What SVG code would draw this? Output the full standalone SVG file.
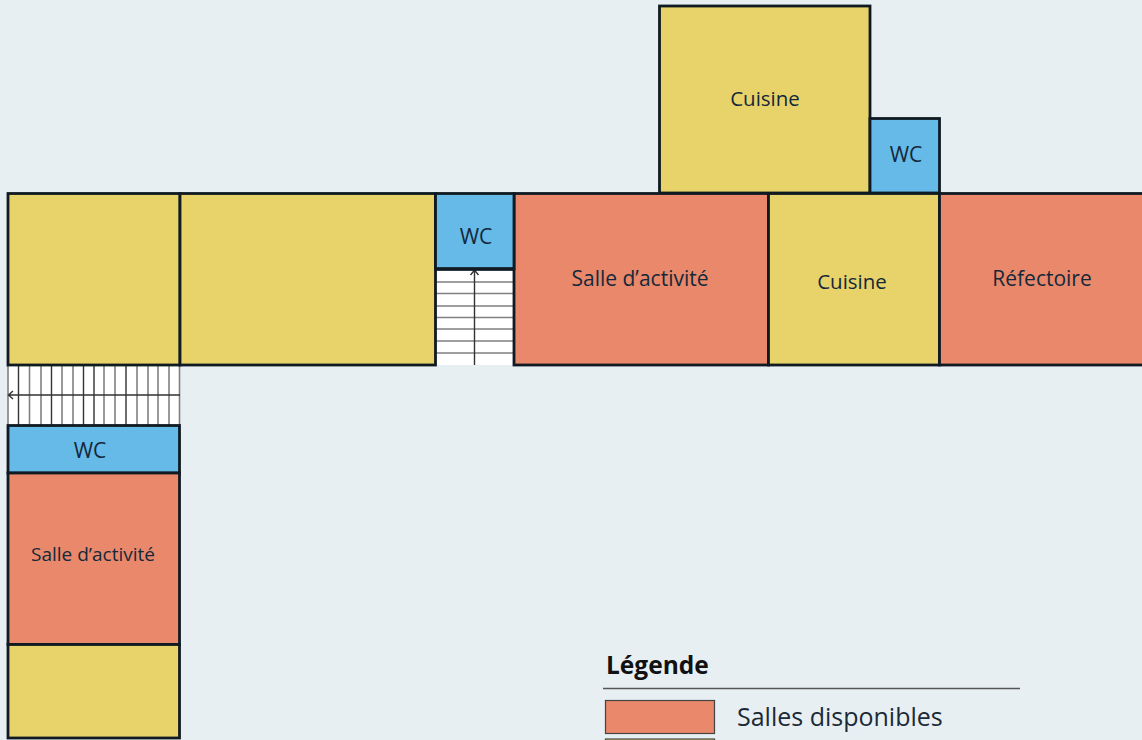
<svg xmlns="http://www.w3.org/2000/svg" width="1142" height="740" viewBox="0 0 1142 740">
<style>
.r{stroke:#101a22;stroke-width:2.800}
.y{fill:#e8d36a}.o{fill:#e9886a}.b{fill:#66bae8}
.t{font-family:"Open Sans","Noto Sans",sans-serif;fill:#14283a;text-anchor:middle}
.s{stroke:#808080;stroke-width:1.600;fill:none}
.d{stroke:#333;stroke-width:1.400;fill:none}
</style>
<rect width="1142" height="740" fill="#e7eff3"/>
<g id="stair-h">
<rect x="8" y="365" width="172" height="60" fill="#fff"/>
<path class="s" d="M8 365V425M29.500 365V425M41 365V425M62 365V425M73 365V425M104 365V425M115 365V425M137 365V425M148 365V425M158 365V425M169 365V425M179.500 365V425"/>
<path class="d" d="M8 395H180M18.500 365V425M51.500 365V425M83.500 365V425M94 365V425M126 365V425M13 391L8.500 395L13 399"/>
</g>
<g id="stair-v">
<rect x="436" y="269" width="78" height="96" fill="#fff"/>
<path class="s" d="M436 282H514M436 293.500H514M436 306H514M436 317.500H514M436 329H514M436 341H514M436 353H514"/>
<path class="d" d="M474.500 270V365M470.500 275L474.500 270L478.500 275"/>
</g>
<g id="cuisine-haut"><rect class="r y" x="659.500" y="6" width="210.500" height="187"/><text class="t" x="765" y="106" font-size="20.500">Cuisine</text></g>
<g id="wc-haut"><rect class="r b" x="870" y="118.500" width="69.500" height="74.500"/><text class="t" x="906" y="162" font-size="21">WC</text></g>
<g id="salle-1"><rect class="r y" x="8" y="193.500" width="172" height="171.500"/></g>
<g id="salle-2"><rect class="r y" x="180" y="193.500" width="255.500" height="171.500"/></g>
<g id="activite-1"><rect class="r o" x="514" y="193.500" width="254.500" height="171.500"/><text class="t" x="640" y="286" font-size="21">Salle d’activité</text></g>
<g id="wc-centre"><rect class="r b" x="435.500" y="193.500" width="78.500" height="75.500"/><path d="M435.500 269H514" stroke="#101a22" stroke-width="3.500"/><text class="t" x="476" y="244" font-size="21">WC</text></g>
<g id="cuisine-bas"><rect class="r y" x="768.500" y="193.500" width="171" height="171.500"/><text class="t" x="852" y="289" font-size="20.500">Cuisine</text></g>
<g id="refectoire"><rect class="r o" x="939.500" y="193.500" width="206" height="171.500"/><text class="t" x="1042" y="286" font-size="21">Réfectoire</text></g>
<g id="wc-bas"><rect class="r b" x="8" y="425.500" width="171.500" height="47.500"/><text class="t" x="90" y="458" font-size="21">WC</text></g>
<g id="activite-2"><rect class="r o" x="8" y="473" width="171.500" height="171.500"/><text class="t" x="93" y="561" font-size="19">Salle d’activité</text></g>
<g id="salle-3"><rect class="r y" x="8" y="644.500" width="171.500" height="93.500"/></g>
<g id="legende">
<text x="606" y="674" font-family="'Open Sans','Noto Sans',sans-serif" font-weight="700" font-size="24.500" fill="#111">Légende</text>
<path d="M603 688.500H1020" stroke="#555" stroke-width="1.600"/>
<rect x="605.500" y="700.500" width="109" height="33" fill="#e9886a" stroke="#444" stroke-width="1.200"/>
<text x="737" y="726" font-family="'Open Sans','Noto Sans',sans-serif" font-size="25" fill="#1c2a36">Salles disponibles</text>
<rect x="605.500" y="739" width="109" height="4" fill="#e8d36a" stroke="#444" stroke-width="1.200"/>
</g>
</svg>
